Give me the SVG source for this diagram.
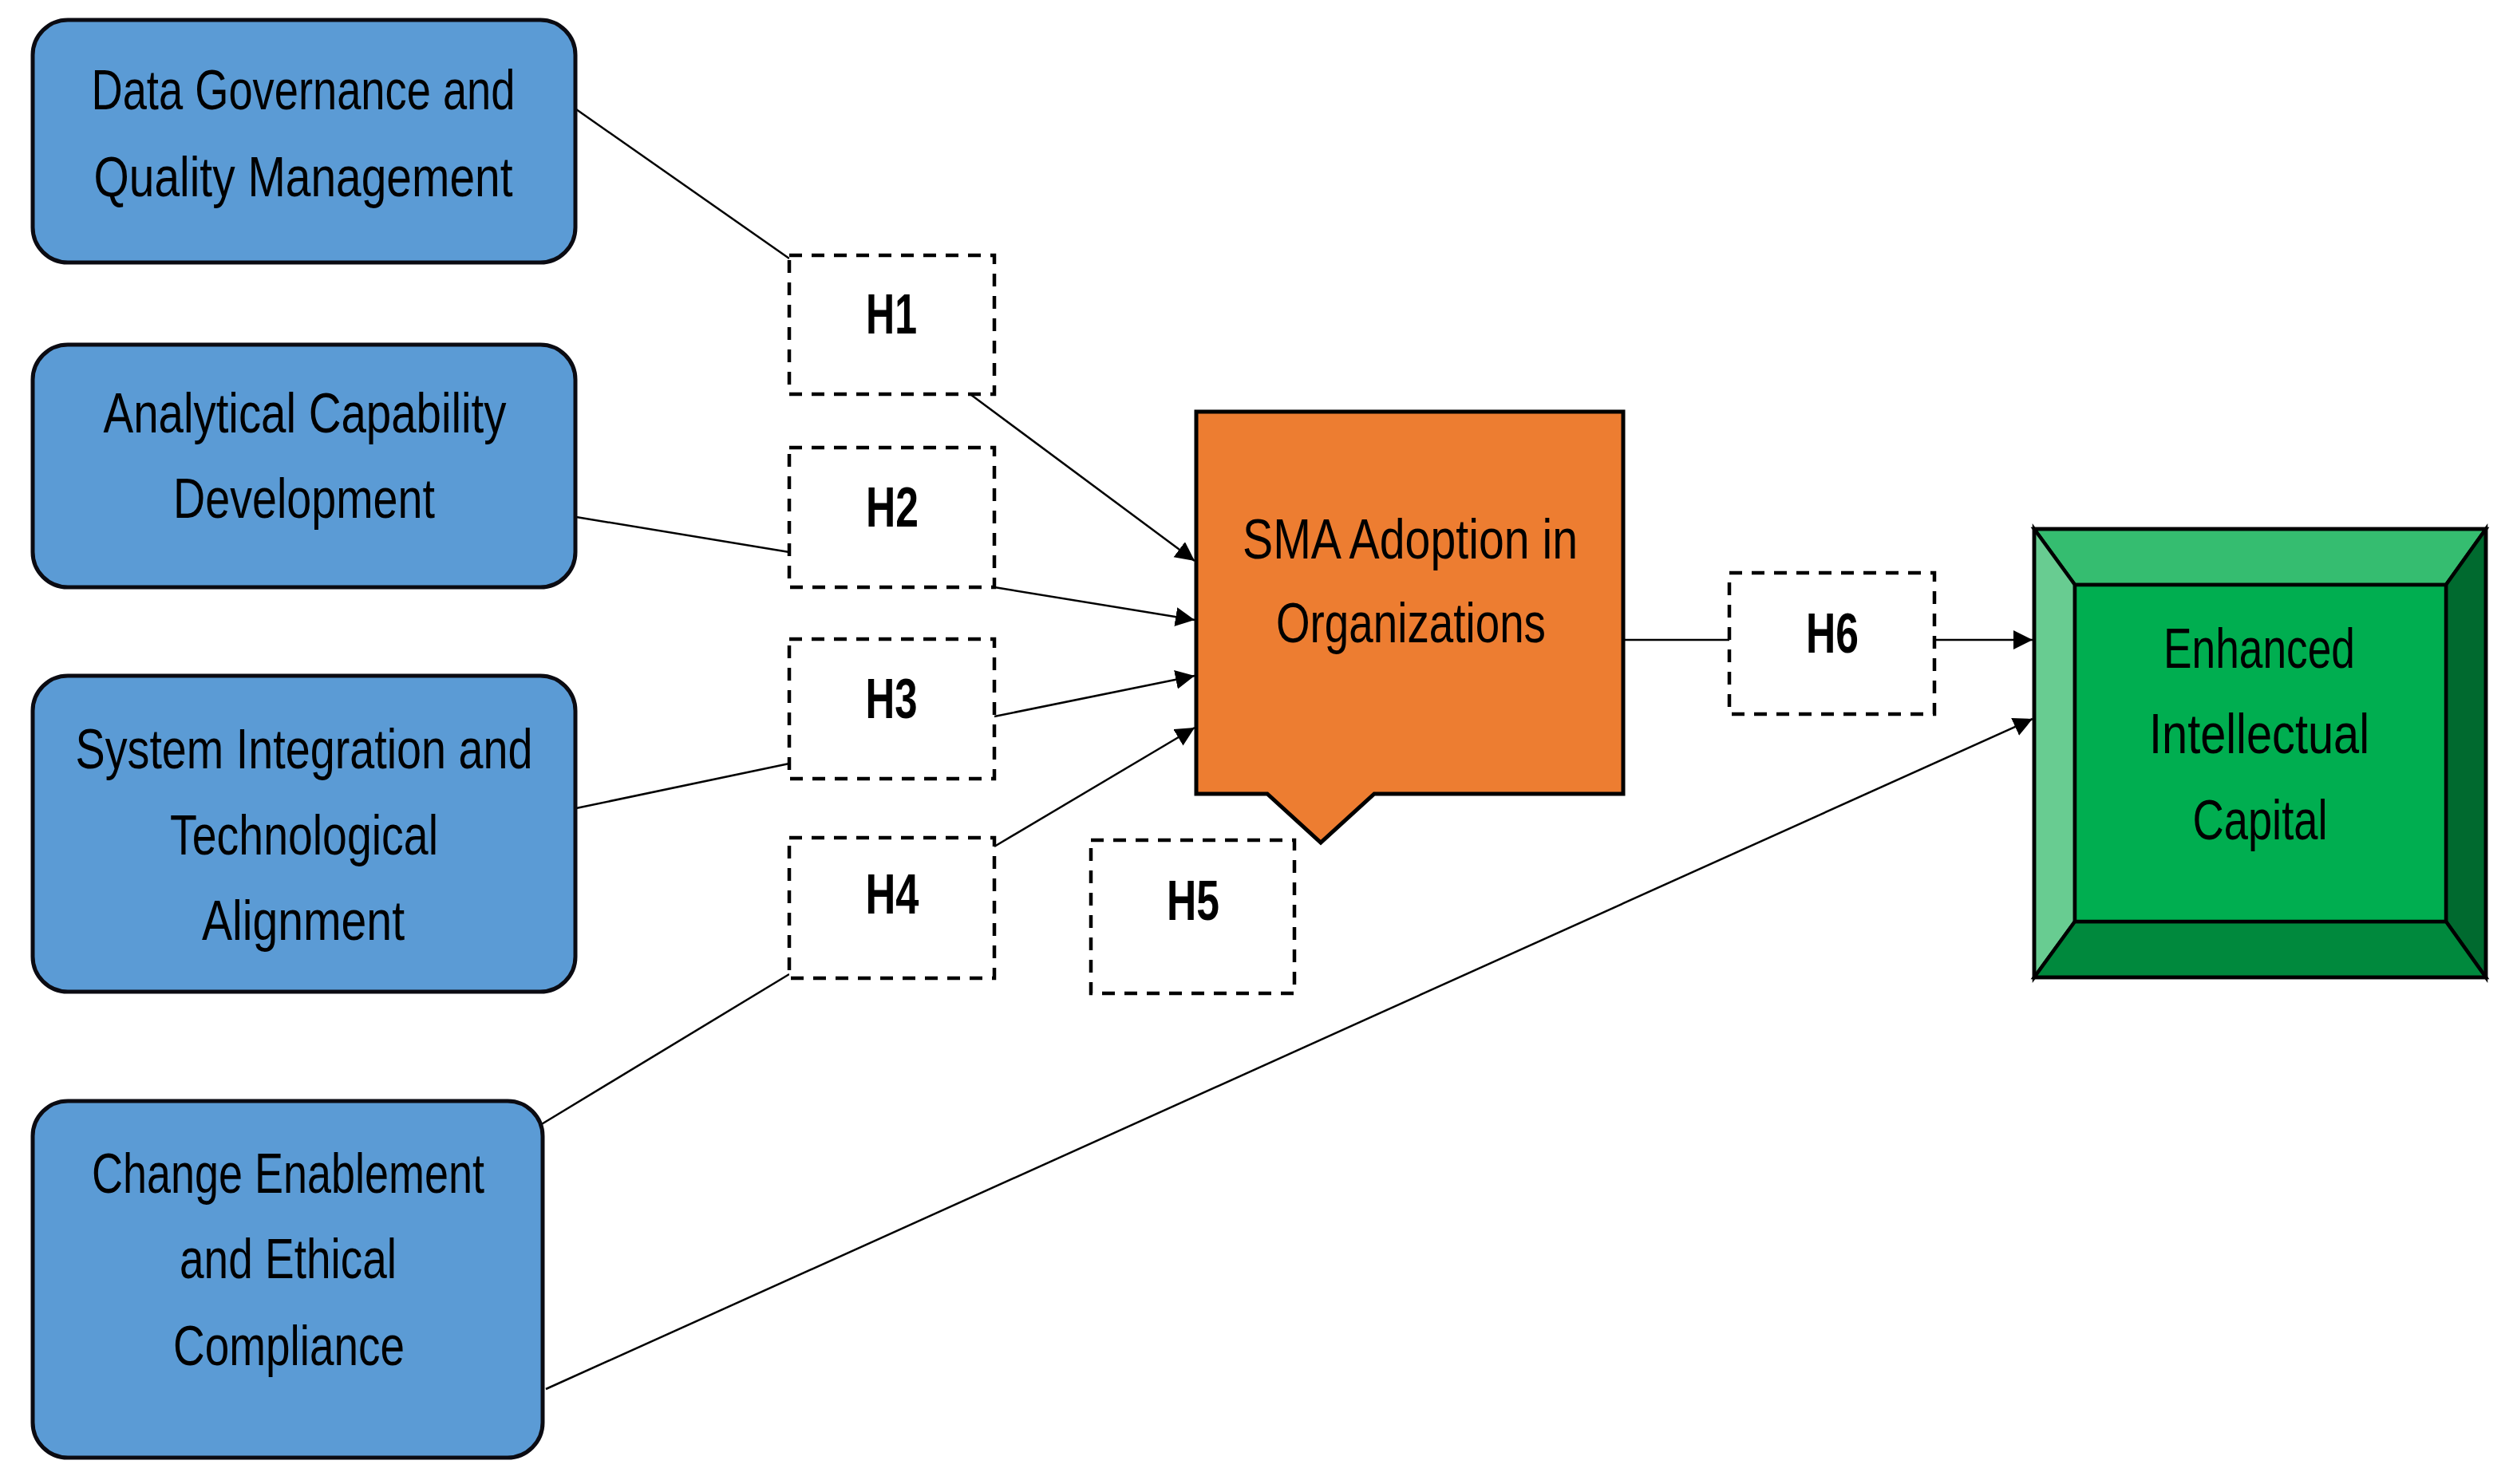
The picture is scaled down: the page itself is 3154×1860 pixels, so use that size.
<svg xmlns="http://www.w3.org/2000/svg" width="3154" height="1860" viewBox="0 0 3154 1860">
<style>
.blue{fill:#5b9bd5;stroke:#0b0b12;stroke-width:5}
.hyp{fill:#ffffff;stroke:#000;stroke-width:4.5;stroke-dasharray:16 12}
.lbl{font-family:"Liberation Sans Narrow","Liberation Sans",Arial,sans-serif;font-size:70px;fill:#000;text-anchor:middle}
.hl{font-family:"Liberation Sans Narrow","Liberation Sans",Arial,sans-serif;font-size:70px;font-weight:bold;fill:#000;text-anchor:middle}
.con{fill:none;stroke:#000;stroke-width:2.5}
.bev{stroke:#000;stroke-width:4.5;stroke-linejoin:miter}
</style>
<defs>
<marker id="arr" markerUnits="userSpaceOnUse" markerWidth="26" markerHeight="26" refX="24" refY="12" orient="auto">
<path d="M0,0 L24,12 L0,24 Z" fill="#000"/>
</marker>
</defs>
<rect width="3154" height="1860" fill="#ffffff"/>

<g id="connectors">
<line class="con" x1="722" y1="137" x2="989" y2="324"/>
<line class="con" x1="1217" y1="495" x2="1497" y2="703" marker-end="url(#arr)"/>
<line class="con" x1="722" y1="648" x2="989" y2="692"/>
<line class="con" x1="1246" y1="736" x2="1497" y2="777" marker-end="url(#arr)"/>
<line class="con" x1="722" y1="1013" x2="989" y2="957"/>
<line class="con" x1="1246" y1="898" x2="1497" y2="847" marker-end="url(#arr)"/>
<line class="con" x1="677" y1="1410" x2="989" y2="1221"/>
<line class="con" x1="1246" y1="1061" x2="1497" y2="912" marker-end="url(#arr)"/>
<line class="con" x1="2034" y1="802" x2="2167" y2="802"/>
<line class="con" x1="2424" y1="802" x2="2547" y2="802" marker-end="url(#arr)"/>
<line class="con" x1="684" y1="1741" x2="2547" y2="901" marker-end="url(#arr)"/>
</g>

<g id="node-data-governance">
<rect class="blue" x="41" y="25" width="680" height="304" rx="44" ry="44"/>
<text class="lbl" x="380" y="137" textLength="531" lengthAdjust="spacingAndGlyphs">Data Governance and</text>
<text class="lbl" x="380" y="246" textLength="525" lengthAdjust="spacingAndGlyphs">Quality Management</text>
</g>

<g id="node-analytical">
<rect class="blue" x="41" y="432" width="680" height="304" rx="44" ry="44"/>
<text class="lbl" x="382" y="542" textLength="505" lengthAdjust="spacingAndGlyphs">Analytical Capability</text>
<text class="lbl" x="381" y="649" textLength="328" lengthAdjust="spacingAndGlyphs">Development</text>
</g>

<g id="node-system-integration">
<rect class="blue" x="41" y="847" width="680" height="396" rx="44" ry="44"/>
<text class="lbl" x="381" y="963" textLength="573" lengthAdjust="spacingAndGlyphs">System Integration and</text>
<text class="lbl" x="381" y="1071" textLength="336" lengthAdjust="spacingAndGlyphs">Technological</text>
<text class="lbl" x="380" y="1178" textLength="254" lengthAdjust="spacingAndGlyphs">Alignment</text>
</g>

<g id="node-change-enablement">
<rect class="blue" x="41" y="1380" width="639" height="447" rx="44" ry="44"/>
<text class="lbl" x="361" y="1495" textLength="492" lengthAdjust="spacingAndGlyphs">Change Enablement</text>
<text class="lbl" x="361" y="1602" textLength="272" lengthAdjust="spacingAndGlyphs">and Ethical</text>
<text class="lbl" x="362" y="1711" textLength="290" lengthAdjust="spacingAndGlyphs">Compliance</text>
</g>

<g id="node-h1">
<rect class="hyp" x="989" y="320" width="257" height="174"/>
<text class="hl" x="1117" y="418" textLength="64" lengthAdjust="spacingAndGlyphs">H1</text>
</g>
<g id="node-h2">
<rect class="hyp" x="989" y="561" width="257" height="175"/>
<text class="hl" x="1118" y="660" textLength="66" lengthAdjust="spacingAndGlyphs">H2</text>
</g>
<g id="node-h3">
<rect class="hyp" x="989" y="801" width="257" height="175"/>
<text class="hl" x="1117" y="900" textLength="65" lengthAdjust="spacingAndGlyphs">H3</text>
</g>
<g id="node-h4">
<rect class="hyp" x="989" y="1050" width="257" height="176"/>
<text class="hl" x="1118" y="1145" textLength="67" lengthAdjust="spacingAndGlyphs">H4</text>
</g>
<g id="node-h5">
<rect class="hyp" x="1367" y="1053" width="255" height="192"/>
<text class="hl" x="1495" y="1153" textLength="66" lengthAdjust="spacingAndGlyphs">H5</text>
</g>
<g id="node-h6">
<rect class="hyp" x="2167" y="718" width="257" height="177"/>
<text class="hl" x="2296" y="818" textLength="66" lengthAdjust="spacingAndGlyphs">H6</text>
</g>

<g id="node-sma">
<path d="M1499,516 L2034,516 L2034,995 L1722,995 L1655,1056 L1588,995 L1499,995 Z" fill="#ed7d31" stroke="#000" stroke-width="5"/>
<text class="lbl" x="1767" y="700" font-size="67" textLength="420" lengthAdjust="spacingAndGlyphs">SMA Adoption in</text>
<text class="lbl" x="1768" y="805" font-size="67" textLength="338" lengthAdjust="spacingAndGlyphs">Organizations</text>
</g>

<g id="node-eic">
<polygon class="bev" points="2549,663 3115,663 3065,733 2600,733" fill="#35bd70"/>
<polygon class="bev" points="2549,663 2600,733 2600,1155 2549,1225" fill="#68cc91"/>
<polygon class="bev" points="3115,663 3115,1225 3065,1155 3065,733" fill="#006a2f"/>
<polygon class="bev" points="2549,1225 2600,1155 3065,1155 3115,1225" fill="#00893d"/>
<rect x="2600" y="733" width="465" height="422" fill="#00ae50" stroke="#000" stroke-width="4.5"/>
<rect x="2549" y="663" width="566" height="562" fill="none" stroke="#000" stroke-width="4.5"/>
<text class="lbl" x="2831" y="837" font-size="67" fill="#0a1a0e" textLength="240" lengthAdjust="spacingAndGlyphs">Enhanced</text>
<text class="lbl" x="2831" y="944" font-size="67" fill="#0a1a0e" textLength="276" lengthAdjust="spacingAndGlyphs">Intellectual</text>
<text class="lbl" x="2832" y="1052" font-size="67" fill="#0a1a0e" textLength="169" lengthAdjust="spacingAndGlyphs">Capital</text>
</g>
</svg>
